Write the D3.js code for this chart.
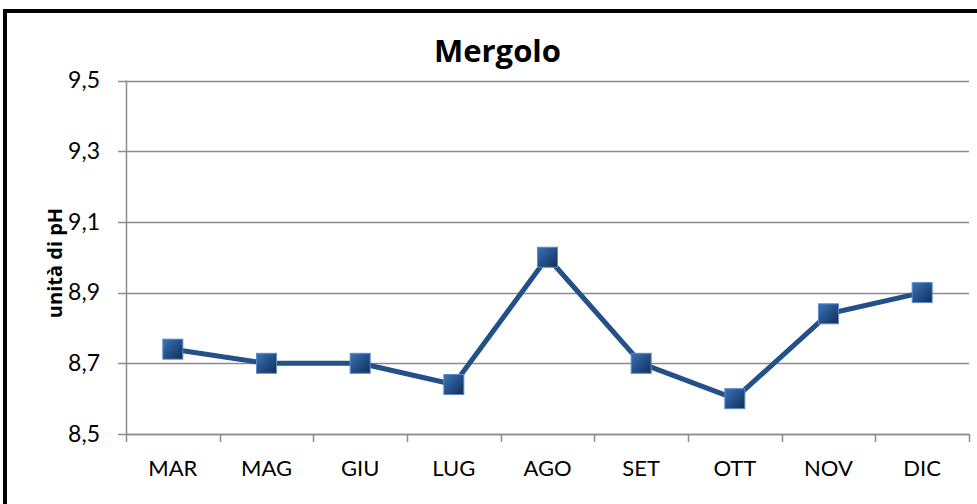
<!DOCTYPE html>
<html><head><meta charset="utf-8">
<script src="https://cdn.jsdelivr.net/npm/d3@7"></script>
<style>body{margin:0;background:#fff}svg{display:block}</style>
</head><body>
<script>
const categories = ["MAR","MAG","GIU","LUG","AGO","SET","OTT","NOV","DIC"];
const values = [8.74, 8.70, 8.70, 8.64, 9.00, 8.70, 8.60, 8.84, 8.90];
const yTicks = [8.5, 8.7, 8.9, 9.1, 9.3, 9.5];
const titleText = "Mergolo";
const yTitle = "unità di pH";

(function () {
const W = 977, H = 504;
const svg = d3.select("body").append("svg").attr("width", W).attr("height", H);
const font = "Lato, 'Open Sans', sans-serif";
const boldFont = "'Open Sans', Lato, sans-serif";

svg.append("rect").attr("x", 5).attr("y", 11).attr("width", W + 20).attr("height", H + 20)
  .attr("fill", "#fff").attr("stroke", "#000").attr("stroke-width", 4);

const pL = 126, pR = 969, pT = 80.5, pB = 434;
const x = d3.scaleBand().domain(categories).range([pL, pR]);
const y = d3.scaleLinear().domain([8.5, 9.5]).range([pB, pT]);

// gridlines
svg.append("g").selectAll("line").data(yTicks).join("line")
  .attr("x1", pL - 8).attr("x2", pR)
  .attr("y1", d => Math.round(y(d)) + 0.5).attr("y2", d => Math.round(y(d)) + 0.5)
  .attr("stroke", "#8c8c8c").attr("stroke-width", 1.5);

// y axis
const yAxis = d3.axisLeft(y).tickValues(yTicks).tickSize(0).tickPadding(26)
  .tickFormat(d => d3.format(".1f")(d).replace(".", ","));
const gy = svg.append("g").attr("transform", `translate(${pL},0)`).call(yAxis);
gy.select(".domain").remove();
gy.selectAll("text").attr("font-family", font).attr("font-size", 23).attr("fill", "#000");
svg.append("line").attr("x1", pL + 0.5).attr("x2", pL + 0.5).attr("y1", pT).attr("y2", pB)
  .attr("stroke", "#8c8c8c").attr("stroke-width", 1.5);

// x axis
const xAxis = d3.axisBottom(x).tickSize(0).tickPadding(26);
const gx = svg.append("g").attr("transform", `translate(0,${pB})`).call(xAxis);
gx.select(".domain").remove();
gx.selectAll("text").attr("font-family", font).attr("font-size", 22).attr("fill", "#000");
const tickXs = categories.map(c => x(c)).concat([pR]);
svg.append("g").selectAll("line").data(tickXs).join("line")
  .attr("x1", d => Math.round(d) + 0.5).attr("x2", d => Math.round(d) + 0.5)
  .attr("y1", pB).attr("y2", pB + 8)
  .attr("stroke", "#8c8c8c").attr("stroke-width", 1.5);
svg.append("line").attr("x1", pL).attr("x2", pR).attr("y1", pB + 0.5).attr("y2", pB + 0.5)
  .attr("stroke", "#8c8c8c").attr("stroke-width", 1.5);

// title
svg.append("text").attr("x", 497.5).attr("y", 62).attr("text-anchor", "middle")
  .attr("font-family", boldFont).attr("font-weight", "bold").attr("font-size", 31).text(titleText);

// y title
svg.append("text").attr("transform", `translate(62,263) rotate(-90)`)
  .attr("text-anchor", "middle").attr("font-family", boldFont).attr("font-weight", "bold")
  .attr("font-size", 20).text(yTitle);

// line
const cx = d => x(d.c) + x.bandwidth() / 2;
const data = categories.map((c, i) => ({c, v: values[i]}));
svg.append("path").datum(data)
  .attr("d", d3.line().x(cx).y(d => y(d.v)))
  .attr("fill", "none").attr("stroke", "#24508a").attr("stroke-width", 5).attr("stroke-linejoin", "round");

// markers
const defs = svg.append("defs");
const g1 = defs.append("linearGradient").attr("id", "mg").attr("x1", "0").attr("y1", "0").attr("x2", "1").attr("y2", "1");
g1.append("stop").attr("offset", "0").attr("stop-color", "#3f73b5");
g1.append("stop").attr("offset", "0.5").attr("stop-color", "#23508a");
g1.append("stop").attr("offset", "1").attr("stop-color", "#142e52");
const s = 20;
svg.append("g").selectAll("rect").data(data).join("rect")
  .attr("x", d => cx(d) - s / 2).attr("y", d => y(d.v) - s / 2)
  .attr("width", s).attr("height", s)
  .attr("fill", "url(#mg)").attr("stroke", "#5c8bc8").attr("stroke-width", 1);
})();
</script>
</body></html>
